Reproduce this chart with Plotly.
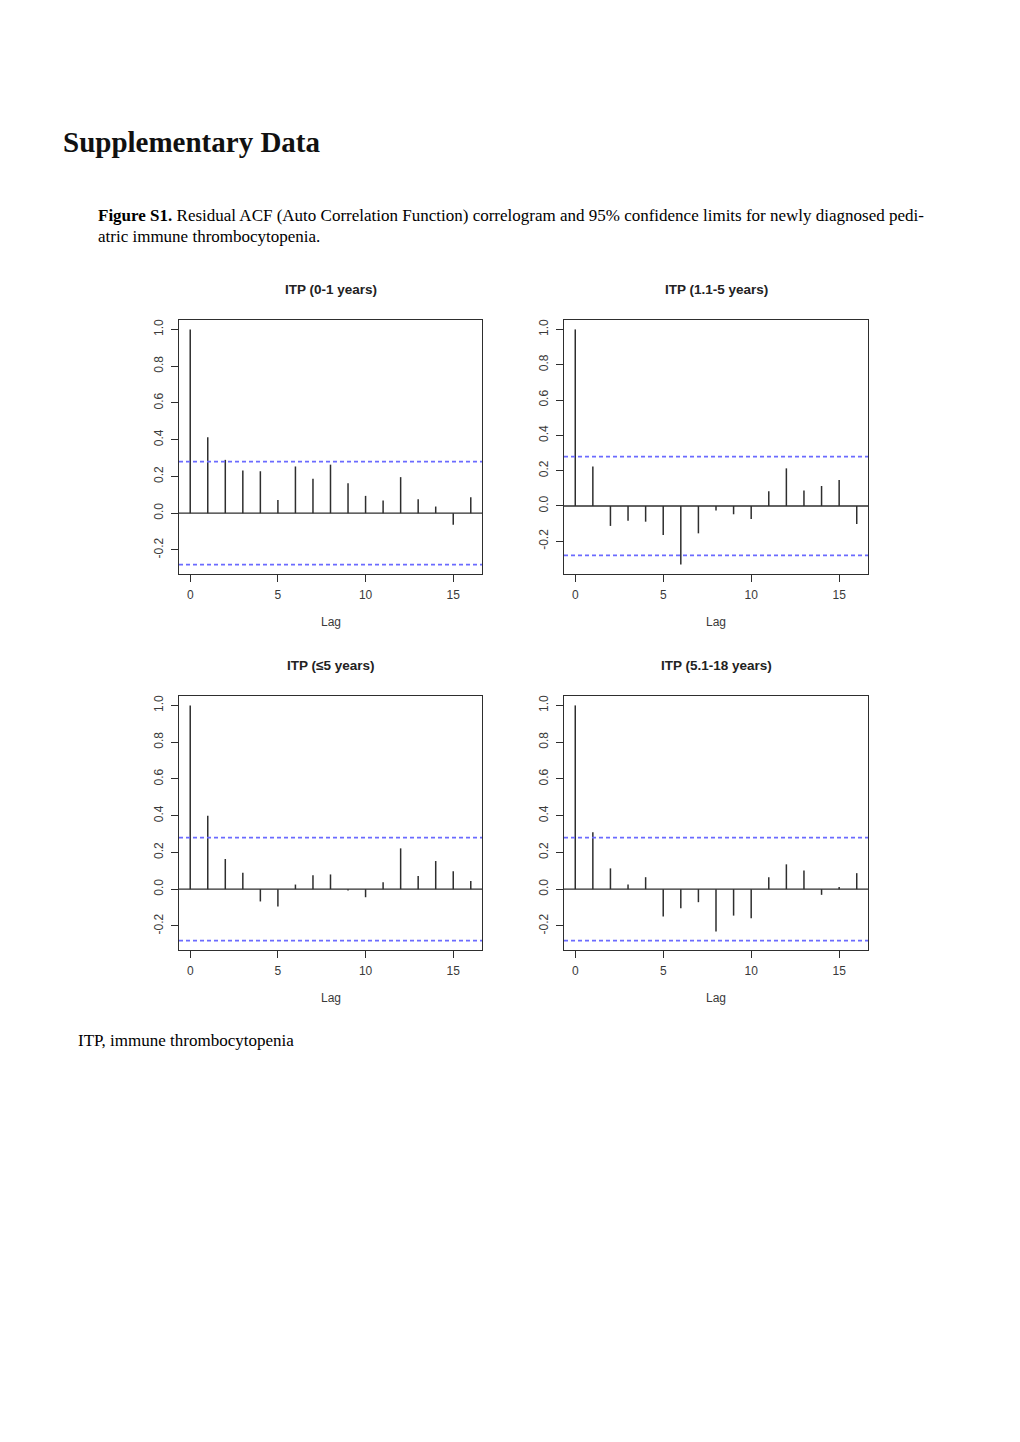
import plotly.graph_objects as go

W, H = 1020, 1442

lags = list(range(17))
ci = 0.28

titles = ["ITP (0-1 years)", "ITP (1.1-5 years)", "ITP (≤5 years)", "ITP (5.1-18 years)"]

acf_0_1 = [1.0, 0.413, 0.29, 0.232, 0.228, 0.072, 0.254, 0.187, 0.264, 0.163,
           0.094, 0.069, 0.196, 0.076, 0.036, -0.063, 0.087]
acf_1_5 = [1.0, 0.223, -0.113, -0.083, -0.089, -0.164, -0.332, -0.155, -0.026, -0.047,
           -0.074, 0.083, 0.213, 0.087, 0.113, 0.147, -0.102]
acf_le5 = [1.0, 0.40, 0.164, 0.089, -0.067, -0.095, 0.025, 0.075, 0.08, -0.007,
           -0.044, 0.038, 0.222, 0.071, 0.153, 0.098, 0.044]
acf_5_18 = [1.0, 0.309, 0.113, 0.025, 0.065, -0.149, -0.104, -0.071, -0.231, -0.144,
            -0.158, 0.065, 0.135, 0.102, -0.031, 0.011, 0.087]

series = [acf_0_1, acf_1_5, acf_le5, acf_5_18]

x_ticks = [0, 5, 10, 15]
y_ticks = [-0.2, 0.0, 0.2, 0.4, 0.6, 0.8, 1.0]
y_ticktext = ["-0.2", "0.0", "0.2", "0.4", "0.6", "0.8", "1.0"]

# panel boxes in page pixels (left, right, top, bottom)
boxes = [(179, 482, 320, 574), (564, 868, 320, 574),
         (179, 482, 696, 950), (564, 868, 696, 950)]

LINE = "#2e2e2e"
TXT = "#3a3a3a"
BLUE = "#6b6bff"

fig = go.Figure()
layout = dict(width=W, height=H, margin=dict(l=0, r=0, t=0, b=0),
              paper_bgcolor="white", plot_bgcolor="white", showlegend=False)
shapes = []
annotations = []

for i, (vals, title, box) in enumerate(zip(series, titles, boxes)):
    n = "" if i == 0 else str(i + 1)
    xa, ya = "x" + n, "y" + n
    l, r, t, b = box
    xs, ys = [], []
    for lag, v in zip(lags, vals):
        xs += [lag, lag, None]
        ys += [0, v, None]
    fig.add_trace(go.Scatter(x=xs, y=ys, mode="lines", xaxis=xa, yaxis=ya,
                             line=dict(color=LINE, width=1.5), hoverinfo="skip"))
    lo = min(-ci, min(vals))
    hi = max(ci, max(vals))
    pad = 0.04 * (hi - lo)
    xlo, xhi = min(lags), max(lags)
    xpad = 0.04 * (xhi - xlo)
    axis_common = dict(showgrid=False, zeroline=False, showline=True, mirror=True,
                       linecolor=LINE, linewidth=1.4, ticks="outside", ticklen=7,
                       tickcolor=LINE, tickwidth=1.2,
                       tickfont=dict(family="Liberation Sans, Arial", size=12, color=TXT))
    layout["xaxis" + n] = dict(axis_common, domain=[l / W, r / W], anchor=ya,
                               range=[xlo - xpad, xhi + xpad], tickvals=x_ticks,
                               ticklabelstandoff=2)
    layout["yaxis" + n] = dict(axis_common, domain=[1 - b / H, 1 - t / H], anchor=xa,
                               range=[lo - pad, hi + pad], tickvals=y_ticks,
                               ticktext=y_ticktext, tickangle=-90, ticklabelstandoff=3)
    # zero line
    shapes.append(dict(type="line", xref=xa + " domain", yref=ya, x0=0, x1=1, y0=0, y1=0,
                       line=dict(color=LINE, width=1.4)))
    for c in (ci, -ci):
        shapes.append(dict(type="line", xref=xa + " domain", yref=ya, x0=0, x1=1, y0=c, y1=c,
                           line=dict(color=BLUE, width=1.8, dash="4px,3px")))
    annotations.append(dict(text="<b>" + title + "</b>", xref="paper", yref="paper",
                            x=(l + r) / 2 / W, y=1 - (t - 31) / H, showarrow=False,
                            xanchor="center", yanchor="middle",
                            font=dict(family="Liberation Sans, Arial", size=13.5, color="#222")))
    annotations.append(dict(text="Lag", xref="paper", yref="paper",
                            x=(l + r) / 2 / W, y=1 - (b + 48) / H, showarrow=False,
                            xanchor="center", yanchor="middle",
                            font=dict(family="Liberation Sans, Arial", size=12, color=TXT)))

SERIF = "Liberation Serif, Times New Roman, serif"
annotations.append(dict(text="<b>Supplementary Data</b>", xref="paper", yref="paper",
                        x=61 / W, y=1 - 142 / H, showarrow=False, xanchor="left",
                        yanchor="middle", font=dict(family=SERIF, size=29, color="#111")))
annotations.append(dict(text="<b>Figure S1.</b> Residual ACF (Auto Correlation Function) correlogram and 95% confidence limits for newly diagnosed pedi-",
                        xref="paper", yref="paper", x=96 / W, y=1 - 216 / H, showarrow=False,
                        xanchor="left", yanchor="middle",
                        font=dict(family=SERIF, size=17, color="black")))
annotations.append(dict(text="atric immune thrombocytopenia.",
                        xref="paper", yref="paper", x=96 / W, y=1 - 236 / H, showarrow=False,
                        xanchor="left", yanchor="middle",
                        font=dict(family=SERIF, size=17, color="black")))
annotations.append(dict(text="ITP, immune thrombocytopenia",
                        xref="paper", yref="paper", x=76 / W, y=1 - 1040 / H, showarrow=False,
                        xanchor="left", yanchor="middle",
                        font=dict(family=SERIF, size=17, color="black")))

layout["shapes"] = shapes
layout["annotations"] = annotations
fig.update_layout(**layout)
fig.write_html("out.html")
